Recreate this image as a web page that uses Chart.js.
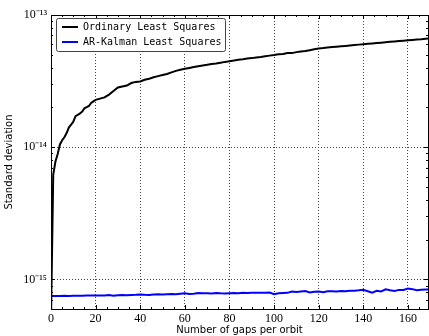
<!DOCTYPE html>
<html>
<head>
<meta charset="utf-8">
<script src="https://cdn.jsdelivr.net/npm/chart.js@4.4.0/dist/chart.umd.min.js"></script>
<style>
html,body{margin:0;padding:0;background:#fff;}
canvas{display:block;}
</style>
</head>
<body>
<canvas id="c" width="429" height="336"></canvas>
<script>
// ---- data ----
const seriesLabels = ['Ordinary Least Squares', 'AR-Kalman Least Squares'];
const olsX = [0,1,2,3,4,5,6,7,8,9,10,11,12,13,14,15,16,17,18,19,20,22,24,26,28,30,32,34,36,38,40,42,44,46,48,50,52,54,56,58,60,62,64,66,68,70,72,74,76,78,80,82,84,86,88,90,92,94,96,98,100,102,104,106,108,110,112,114,116,118,120,122,124,126,128,130,132,134,136,138,140,142,144,146,148,150,152,154,156,158,160,162,164,166,168,169];
const olsY = [5.0e-16,6.2e-15,7.8e-15,8.9e-15,1.05e-14,1.13e-14,1.19e-14,1.28e-14,1.41e-14,1.48e-14,1.56e-14,1.72e-14,1.76e-14,1.80e-14,1.86e-14,1.97e-14,2.01e-14,2.05e-14,2.16e-14,2.22e-14,2.28e-14,2.33e-14,2.38e-14,2.50e-14,2.66e-14,2.83e-14,2.88e-14,2.93e-14,3.06e-14,3.12e-14,3.14e-14,3.24e-14,3.30e-14,3.38e-14,3.45e-14,3.52e-14,3.58e-14,3.68e-14,3.78e-14,3.85e-14,3.92e-14,3.98e-14,4.04e-14,4.10e-14,4.15e-14,4.20e-14,4.26e-14,4.30e-14,4.36e-14,4.42e-14,4.47e-14,4.52e-14,4.58e-14,4.62e-14,4.68e-14,4.72e-14,4.78e-14,4.82e-14,4.88e-14,4.93e-14,4.98e-14,5.04e-14,5.07e-14,5.16e-14,5.15e-14,5.24e-14,5.30e-14,5.35e-14,5.42e-14,5.50e-14,5.58e-14,5.62e-14,5.68e-14,5.72e-14,5.76e-14,5.80e-14,5.84e-14,5.88e-14,5.92e-14,5.97e-14,6.01e-14,6.06e-14,6.10e-14,6.14e-14,6.18e-14,6.23e-14,6.27e-14,6.31e-14,6.35e-14,6.39e-14,6.44e-14,6.48e-14,6.52e-14,6.56e-14,6.62e-14,6.64e-14];
const kalX = [0,2,4,6,8,10,12,14,16,18,20,22,24,26,28,30,32,34,36,38,40,42,44,46,48,50,52,54,56,58,60,62,64,66,68,70,72,74,76,78,80,82,84,86,88,90,92,94,96,98,100,102,104,106,108,110,112,114,116,118,120,122,124,126,128,130,132,134,136,138,140,142,144,146,148,150,152,154,156,158,160,162,164,166,168,169];
const kalY = [7.50e-16,7.50e-16,7.51e-16,7.52e-16,7.50e-16,7.53e-16,7.54e-16,7.52e-16,7.55e-16,7.56e-16,7.56e-16,7.58e-16,7.55e-16,7.62e-16,7.52e-16,7.60e-16,7.62e-16,7.60e-16,7.64e-16,7.66e-16,7.70e-16,7.65e-16,7.63e-16,7.70e-16,7.72e-16,7.70e-16,7.74e-16,7.76e-16,7.72e-16,7.80e-16,7.85e-16,7.78e-16,7.80e-16,7.90e-16,7.86e-16,7.88e-16,7.85e-16,7.90e-16,7.86e-16,7.84e-16,7.88e-16,7.90e-16,7.88e-16,7.92e-16,7.90e-16,7.93e-16,7.92e-16,7.95e-16,7.94e-16,7.96e-16,7.74e-16,7.86e-16,7.90e-16,7.92e-16,8.10e-16,8.05e-16,8.12e-16,8.18e-16,7.98e-16,8.08e-16,8.12e-16,8.02e-16,8.14e-16,8.15e-16,8.10e-16,8.18e-16,8.14e-16,8.20e-16,8.22e-16,8.28e-16,8.36e-16,8.15e-16,7.95e-16,8.20e-16,8.12e-16,8.42e-16,8.30e-16,8.20e-16,8.34e-16,8.32e-16,8.55e-16,8.45e-16,8.30e-16,8.36e-16,8.40e-16,8.38e-16];
const xTicks = [0,20,40,60,80,100,120,140,160];
const xTickLabels = ['0','20','40','60','80','100','120','140','160'];
const yTicks = [1e-15,1e-14,1e-13];
const yTickLabels = ['10\u207B\u00B9\u2075','10\u207B\u00B9\u2074','10\u207B\u00B9\u00B3'];
const xTitle = 'Number of gaps per orbit';
const yTitle = 'Standard deviation';

// ---- plugins ----
const framePlugin = {
  id: 'frame',
  afterDatasetsDraw(chart) {
    const ctx = chart.ctx, a = chart.chartArea;
    const xs = chart.scales.x, ys = chart.scales.y;
    ctx.save();
    ctx.strokeStyle = '#000';
    ctx.lineWidth = 1;
    ctx.beginPath();
    for (let v = 0; v <= xs.max; v += 5) {
      const px = Math.round(xs.getPixelForValue(v)) + 0.5;
      const len = (v % 20 === 0) ? 4 : 2;
      ctx.moveTo(px, a.bottom); ctx.lineTo(px, a.bottom - len);
      ctx.moveTo(px, a.top); ctx.lineTo(px, a.top + len);
    }
    for (let e = -16; e <= -13; e++) {
      for (let m = 1; m <= 9; m++) {
        const v = m * Math.pow(10, e);
        if (v < ys.min * 0.999 || v > ys.max * 1.001) continue;
        const py = Math.round(ys.getPixelForValue(v)) + 0.5;
        const len = (m === 1) ? 4 : 2;
        ctx.moveTo(a.left, py); ctx.lineTo(a.left + len, py);
        ctx.moveTo(a.right, py); ctx.lineTo(a.right - len, py);
      }
    }
    ctx.stroke();
    ctx.strokeRect(Math.round(a.left) + 0.5, Math.round(a.top) + 0.5,
                   Math.round(a.right - a.left), Math.round(a.bottom - a.top));
    // legend box
    const lx = 56.5, ly = 18.5, lw = 169, lh = 33;
    ctx.fillStyle = '#fff';
    ctx.strokeStyle = '#444';
    ctx.lineWidth = 1;
    ctx.beginPath();
    if (ctx.roundRect) ctx.roundRect(lx, ly, lw, lh, 2); else ctx.rect(lx, ly, lw, lh);
    ctx.fill();
    ctx.stroke();
    ctx.font = '10px "DejaVu Sans Mono"';
    ctx.textBaseline = 'middle';
    ctx.textAlign = 'left';
    chart.data.datasets.forEach((ds, i) => {
      const yy = 27 + i * 15;
      ctx.strokeStyle = ds.borderColor;
      ctx.lineWidth = 2;
      ctx.beginPath();
      ctx.moveTo(62, yy); ctx.lineTo(78, yy);
      ctx.stroke();
      ctx.fillStyle = '#000';
      ctx.fillText(ds.label, 83, yy + 0.5);
    });
    ctx.restore();
  }
};

new Chart(document.getElementById('c'), {
  type: 'line',
  data: {
    datasets: [
      { label: seriesLabels[0], data: olsX.map((x, i) => ({x, y: olsY[i]})),
        borderColor: '#000000', borderWidth: 2, pointRadius: 0, tension: 0, fill: false },
      { label: seriesLabels[1], data: kalX.map((x, i) => ({x, y: kalY[i]})),
        borderColor: '#0000ff', borderWidth: 2, pointRadius: 0, tension: 0, fill: false }
    ]
  },
  options: {
    responsive: false,
    animation: false,
    devicePixelRatio: 1,
    layout: { padding: { top: 15, right: 1, left: 0, bottom: 0 } },
    plugins: { legend: { display: false }, tooltip: { enabled: false } },
    scales: {
      x: {
        type: 'linear', min: 0, max: 169,
        afterBuildTicks: s => { s.ticks = xTicks.map(v => ({value: v})); },
        afterFit: s => { s.height = 27; },
        ticks: {
          callback: (v) => { const i = xTicks.indexOf(v); return i >= 0 ? xTickLabels[i] : ''; },
          font: { family: '"Liberation Serif"', size: 12 }, color: '#000', padding: 3, maxRotation: 0
        },
        grid: { color: '#444', lineWidth: 1, drawTicks: false },
        border: { display: false, dash: [1, 2] },
        title: { display: true, text: xTitle, font: { family: '"DejaVu Sans"', size: 10 }, color: '#000', padding: { top: 0, bottom: 0 } }
      },
      y: {
        type: 'logarithmic', min: 5.98e-16, max: 1e-13,
        afterBuildTicks: s => { s.ticks = yTicks.map(v => ({value: v})); },
        afterFit: s => { s.width = 51; },
        ticks: {
          callback: (v) => { const i = yTicks.findIndex(t => Math.abs(t - v) / t < 1e-6); return i >= 0 ? yTickLabels[i] : ''; },
          font: { family: '"Liberation Serif"', size: 12 }, color: '#000', padding: 4
        },
        grid: { color: '#444', lineWidth: 1, drawTicks: false },
        border: { display: false, dash: [1, 2] },
        title: { display: true, text: yTitle, font: { family: '"DejaVu Sans"', size: 10 }, color: '#000', padding: { top: 3, bottom: 0 } }
      }
    }
  },
  plugins: [framePlugin]
});
</script>
</body>
</html>
